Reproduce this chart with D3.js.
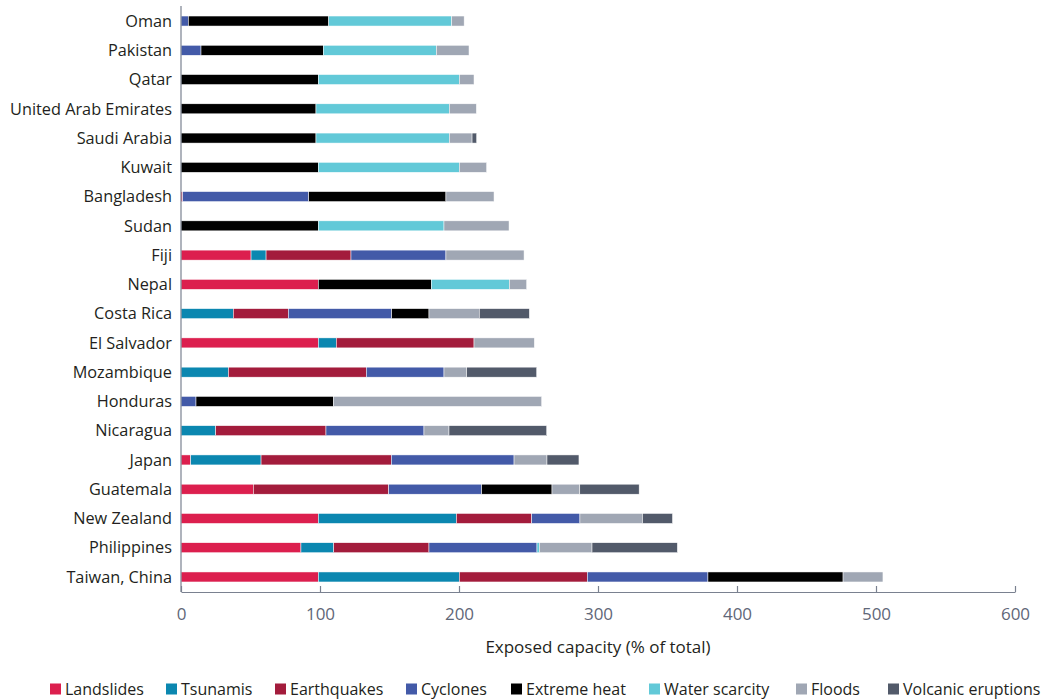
<!DOCTYPE html>
<html><head><meta charset="utf-8">
<script src="https://cdn.jsdelivr.net/npm/d3@7"></script>
<style>body{margin:0;background:#fff}svg{font-family:"Open Sans",sans-serif}</style>
</head><body><div id="chart"></div>
<script>
const categories = ["Oman","Pakistan","Qatar","United Arab Emirates","Saudi Arabia","Kuwait","Bangladesh","Sudan","Fiji","Nepal","Costa Rica","El Salvador","Mozambique","Honduras","Nicaragua","Japan","Guatemala","New Zealand","Philippines","Taiwan, China"];
const seriesNames = ["Landslides","Tsunamis","Earthquakes","Cyclones","Extreme heat","Water scarcity","Floods","Volcanic eruptions"];
const landslides   = [0,0,0,0,0,0,1.2,0,50.4,98.8,0,98.8,0,0,0,7,52,98.8,86.3,98.8];
const tsunamis     = [0,0,0,0,0,0,0,0,10.8,0,37.6,12.9,34.1,0,25,50.6,0,99.3,23.6,101.4];
const earthquakes  = [0,0,0,0,0,0,0,0,61.1,0,39.6,99.1,99.2,0,79.3,93.7,97.4,54.2,68.5,92.1];
const cyclones     = [5.3,14.4,0,0,0,0,90.7,0,68.3,0,74.4,0,55.9,10.8,70.5,88.3,66.9,34.7,77.7,86.8];
const extremeHeat  = [101,88,98.8,97.1,97.1,98.8,98.7,98.8,0,81.3,26.8,0,0,98.8,0,0,50.6,0,0,97.2];
const waterScarcity= [88.5,81.3,101.4,95.9,95.9,101.4,0,90.4,0,56.1,0,0,0,0,0,0,0,0,1.7,0];
const floods       = [8.9,23.5,10.6,19.5,16.4,19.7,34.6,46.8,56.2,12.5,36.2,43.4,16.3,149.9,18,23.7,20,45,37.9,28.7];
const volcanic     = [0,0,0,0,3.3,0,0,0,0,0,36,0,50.4,0,70.3,23,42.7,21.6,61.4,0];
const xTicks = [0,100,200,300,400,500,600];
const xTitle = "Exposed capacity (% of total)";

const colors = ["#dc1f4e","#0b87b0","#a31c3c","#435aa8","#000000","#62c9d8","#a0a7b4","#525a6a"];
const seriesValues = [landslides,tsunamis,earthquakes,cyclones,extremeHeat,waterScarcity,floods,volcanic];

const rows = categories.map((c,i)=>{const o={cat:c};seriesNames.forEach((s,j)=>o[s]=seriesValues[j][i]);return o;});
const stack = d3.stack().keys(seriesNames)(rows);

const W=1041,H=700;
const svg=d3.select("#chart").append("svg").attr("width",W).attr("height",H);
const x=d3.scaleLinear().domain([0,600]).range([181,1015]);
const y=d3.scalePoint().domain(categories).range([6.4,591.6]).padding(0.5);
const barH=10;
const axisColor="#7a8190";
const fs=16;

stack.forEach((layer,j)=>{
  svg.append("g").selectAll("rect").data(layer.filter(d=>d[1]-d[0]>0)).join("rect")
    .attr("x",d=>x(d[0])).attr("width",d=>x(d[1])-x(d[0]))
    .attr("y",d=>y(d.data.cat)-barH/2).attr("height",barH)
    .attr("fill",colors[j]).attr("stroke","#fff").attr("stroke-width",0.5);
});

svg.append("line").attr("x1",181).attr("x2",181).attr("y1",6).attr("y2",592).attr("stroke",axisColor).attr("stroke-width",1.2);
svg.append("g").selectAll("text").data(categories).join("text")
  .attr("x",172).attr("y",d=>y(d)).attr("dy","0.35em").attr("text-anchor","end")
  .attr("font-size",16.3).attr("fill","#231f20").text(d=>d);

const xAxis=d3.axisBottom(x).tickValues(xTicks).tickSizeInner(-6).tickSizeOuter(0).tickPadding(16);
const gx=svg.append("g").attr("transform","translate(0,592)").call(xAxis);
gx.select(".domain").attr("stroke",axisColor).attr("stroke-width",1.2);
gx.selectAll(".tick line").attr("stroke",axisColor).attr("stroke-width",1.2);
gx.selectAll(".tick text").attr("font-size",fs+1).attr("fill","#5f6778").attr("font-family","'Open Sans',sans-serif");

svg.append("text").attr("x",598).attr("y",647).attr("dy","0.35em").attr("text-anchor","middle").attr("font-size",17).attr("fill","#231f20").text(xTitle);

const legX=[50,166,275,406,511,649,796,888];
const lg=svg.append("g").selectAll("g").data(seriesNames).join("g").attr("transform",(d,i)=>`translate(${legX[i]},689)`);
lg.append("rect").attr("x",0).attr("y",-5.5).attr("width",11).attr("height",11).attr("fill",(d,i)=>colors[i]);
lg.append("text").attr("x",15).attr("y",0).attr("dy","0.35em").attr("font-size",fs).attr("fill","#231f20").text(d=>d);
</script></body></html>
